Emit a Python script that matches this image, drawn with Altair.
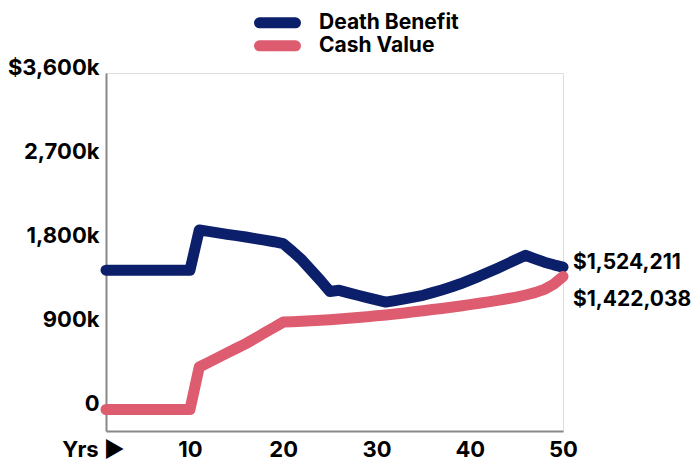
import altair as alt
import pandas as pd

years = list(range(1, 51))
death_benefit = [1490] * 10 + [
    1920, 1905, 1890, 1874, 1860, 1845, 1828, 1812, 1795, 1775,
    1690, 1600, 1490, 1380, 1262, 1275, 1248, 1222, 1197, 1172,
    1149, 1165, 1183, 1203, 1222, 1250, 1278, 1310, 1345, 1385,
    1425, 1468, 1512, 1558, 1605, 1650, 1612, 1576, 1548, 1524,
]
cash_value = [0] * 10 + [
    455, 505, 555, 605, 655, 705, 762, 820, 878, 935,
    940, 945, 950, 955, 961, 968, 976, 984, 993, 1002,
    1012, 1022, 1033, 1045, 1057, 1069, 1081, 1094, 1108, 1122,
    1137, 1152, 1168, 1185, 1203, 1225, 1250, 1285, 1340, 1422,
]
series_names = ["Death Benefit", "Cash Value"]
series_colors = ["#0b1f6a", "#dd5c6f"]
end_labels = ["$1,524,211", "$1,422,038"]
y_ticks = [0, 900, 1800, 2700, 3600]
x_ticks = [1, 10, 20, 30, 40, 50]

rows = []
for i, yr in enumerate(years):
    rows.append({"year": yr, "value": death_benefit[i], "series": series_names[0]})
    rows.append({"year": yr, "value": cash_value[i], "series": series_names[1]})
df = pd.DataFrame(rows)

ends = pd.DataFrame({
    "year": [years[-1], years[-1]],
    "value": [death_benefit[-1], cash_value[-1]],
    "series": series_names,
    "label": end_labels,
})

FONT = "Inter"
FS = 21

# capsule-shaped legend symbol (rounded ends like the lines)
CAPSULE = ("M-0.766,-0.117 L0.766,-0.117 A0.117,0.117 0 0 1 0.766,0.117 "
           "L-0.766,0.117 A0.117,0.117 0 0 1 -0.766,-0.117 Z")

x_enc = alt.X(
    "year:Q",
    scale=alt.Scale(domain=[1, 50], nice=False, zero=False),
    axis=alt.Axis(
        values=x_ticks,
        title=None,
        grid=False,
        ticks=False,
        domainColor="#888888",
        domainWidth=2,
        labelFlush=False,
        labelFont=FONT,
        labelFontSize=22,
        labelFontWeight="bold",
        labelColor="#000000",
        labelPadding=8,
        labelExpr="datum.value == 1 ? 'Yrs \u25b6' : datum.label",
        labelOffset={"condition": {"test": "datum.value == 1", "value": -13}, "value": 0},
    ),
)
y_enc = alt.Y(
    "value:Q",
    scale=alt.Scale(domain=[-230, 3600], nice=False, zero=False),
    axis=alt.Axis(
        values=y_ticks,
        title=None,
        grid=False,
        ticks=False,
        domainColor="#888888",
        domainWidth=2,
        labelFlush=False,
        labelFont=FONT,
        labelFontSize=22,
        labelFontWeight="bold",
        labelColor="#000000",
        labelPadding=7,
        labelOffset=-6,
        labelExpr="datum.value == 3600 ? '$3,600k' : (datum.value == 0 ? '0' : format(datum.value, ',') + 'k')",
    ),
)

color_enc = alt.Color(
    "series:N",
    scale=alt.Scale(domain=series_names, range=series_colors),
    legend=alt.Legend(
        title=None,
        orient="none",
        legendX=145,
        legendY=-61,
        direction="vertical",
        symbolType=CAPSULE,
        symbolSize=2209,
        symbolStrokeWidth=5.5,
        labelFont=FONT,
        labelFontSize=FS,
        labelFontWeight="bold",
        labelColor="#000000",
        labelOffset=15,
        clipHeight=21.7,
        rowPadding=0,
        padding=0,
    ),
)

lines = alt.Chart(df).mark_line(
    strokeWidth=11, strokeCap="round", strokeJoin="round"
).encode(
    x=x_enc,
    y=y_enc,
    color=color_enc,
    order="year:Q",
)

label_top = alt.Chart(ends).transform_filter(
    alt.datum.series == series_names[0]
).mark_text(
    align="left", baseline="middle", dx=10, dy=-4,
    font=FONT, fontSize=FS, fontWeight="bold", color="#000000",
).encode(x="year:Q", y="value:Q", text="label:N")

label_bot = alt.Chart(ends).transform_filter(
    alt.datum.series == series_names[1]
).mark_text(
    align="left", baseline="middle", dx=10, dy=23,
    font=FONT, fontSize=FS, fontWeight="bold", color="#000000",
).encode(x="year:Q", y="value:Q", text="label:N")

chart = alt.layer(lines, label_top, label_bot).properties(
    width=457,
    height=358,
    autosize=alt.AutoSizeParams(type="none"),
    padding={"left": 106, "top": 73, "right": 132, "bottom": 30},
).configure_view(stroke=None).configure(background="#ffffff")

chart.save("out.html", embed_options={"renderer": "svg", "actions": False})
